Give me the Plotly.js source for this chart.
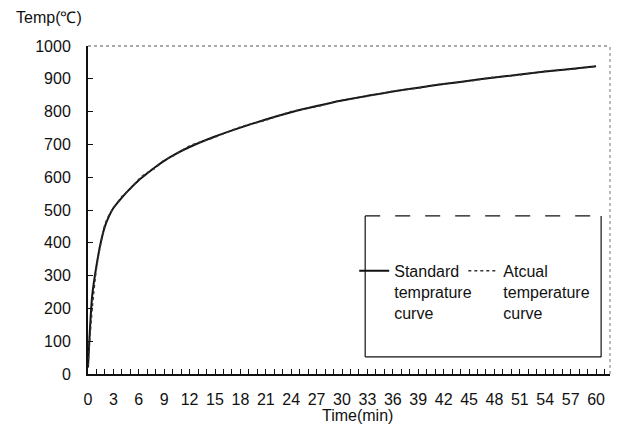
<!DOCTYPE html>
<html>
<head>
<meta charset="utf-8">
<script src="https://cdn.plot.ly/plotly-3.0.1.min.js"></script>
<style>html,body{margin:0;padding:0;background:#fff;}#chart{width:622px;height:425px;}</style>
</head>
<body>
<div id="chart"></div>
<script>
// Time in minutes
const timeStd = [0, 0.5, 1, 1.5, 2, 2.5, 3, 4, 5, 6, 7, 8, 9, 10, 12, 15, 18, 21, 24, 27, 30, 33, 36, 39, 42, 45, 48, 51, 54, 57, 60];
const tempStd = [20, 240, 330, 400, 450, 482, 506, 538, 566, 591, 612, 632, 650, 666, 692, 724, 751, 776, 798, 817, 834, 848, 861, 873, 884, 894, 904, 913, 922, 930, 938];
const timeAct = [0, 0.5, 1, 1.5, 2, 2.5, 3, 4, 5, 6, 7, 8, 9, 10, 12, 15, 18, 21, 24, 27, 30, 33, 36, 39, 42, 45, 48, 51, 54, 57, 60];
const tempAct = [25, 200, 322, 396, 455, 486, 505, 541, 564, 594, 614, 629, 652, 664, 695, 722, 753, 774, 800, 815, 835, 847, 862, 872, 885, 893, 905, 912, 923, 929, 938];
const xTickVals = [0, 3, 6, 9, 12, 15, 18, 21, 24, 27, 30, 33, 36, 39, 42, 45, 48, 51, 54, 57, 60];
const yTickVals = [0, 100, 200, 300, 400, 500, 600, 700, 800, 900, 1000];
const seriesNames = ["Standard<br>temprature<br>curve", "Atcual<br>temperature<br>curve"];

const font = {family: "Liberation Sans, Arial, sans-serif", size: 16, color: "#111"};
const legendBase = {orientation: "v", xanchor: "left", yanchor: "top", valign: "top",
  bgcolor: "rgba(0,0,0,0)", borderwidth: 0, font: font, itemwidth: 30};

const traces = [
  {x: timeStd, y: tempStd, mode: "lines", name: seriesNames[0], legend: "legend",
   line: {color: "#111", width: 2, shape: "spline", smoothing: 0.8}},
  {x: timeAct, y: tempAct, mode: "lines", name: seriesNames[1], legend: "legend2",
   line: {color: "#333", width: 1.5, dash: "dot", shape: "spline", smoothing: 0.8}}
];

const layout = {
  width: 622, height: 425,
  margin: {l: 88, r: 12, t: 46, b: 51},
  paper_bgcolor: "#fff", plot_bgcolor: "#fff",
  font: font,
  showlegend: true,
  legend: Object.assign({}, legendBase, {x: 0.51, y: 0.366}),
  legend2: Object.assign({}, legendBase, {x: 0.719, y: 0.366}),
  xaxis: {range: [0, 61.65], tickvals: xTickVals, ticks: "inside", ticklen: 5, tickcolor: "#111",
          minor: {dtick: 1, ticks: "inside", ticklen: 5, tickcolor: "#111"},
          showline: true, linecolor: "#111", linewidth: 2, showgrid: false, zeroline: false,
          tickfont: font, ticklabelstandoff: 10, automargin: false},
  yaxis: {range: [0, 1000], tickvals: yTickVals, ticks: "inside", ticklen: 5, tickcolor: "#111",
          showline: true, linecolor: "#111", linewidth: 2, showgrid: false, zeroline: false,
          tickfont: font, ticklabelstandoff: 12, automargin: false},
  annotations: [
    {text: "Temp(℃)", xref: "paper", yref: "paper", x: -0.142, y: 1.055, xanchor: "left", yanchor: "bottom",
     showarrow: false, font: font},
    {text: "Time(min)", xref: "paper", yref: "paper", x: 0.517, y: -0.125, xanchor: "center", yanchor: "middle",
     showarrow: false, font: font}
  ],
  shapes: [
    {type: "line", xref: "paper", yref: "paper", x0: 0, x1: 1, y0: 1, y1: 1, line: {color: "#555", width: 1, dash: "dot"}},
    {type: "line", xref: "paper", yref: "paper", x0: 1, x1: 1, y0: 0, y1: 1, line: {color: "#777", width: 1, dash: "dot"}},
    {type: "line", xref: "paper", yref: "paper", x0: 0.531, x1: 0.983, y0: 0.482, y1: 0.482, line: {color: "#111", width: 1.2, dash: "longdash"}},
    {type: "line", xref: "paper", yref: "paper", x0: 0.531, x1: 0.983, y0: 0.052, y1: 0.052, line: {color: "#111", width: 1.2}},
    {type: "line", xref: "paper", yref: "paper", x0: 0.531, x1: 0.531, y0: 0.052, y1: 0.482, line: {color: "#111", width: 1.2}},
    {type: "line", xref: "paper", yref: "paper", x0: 0.983, x1: 0.983, y0: 0.052, y1: 0.482, line: {color: "#111", width: 1.2}}
  ]
};

Plotly.newPlot("chart", traces, layout, {displayModeBar: false, staticPlot: true});
</script>
</body>
</html>
